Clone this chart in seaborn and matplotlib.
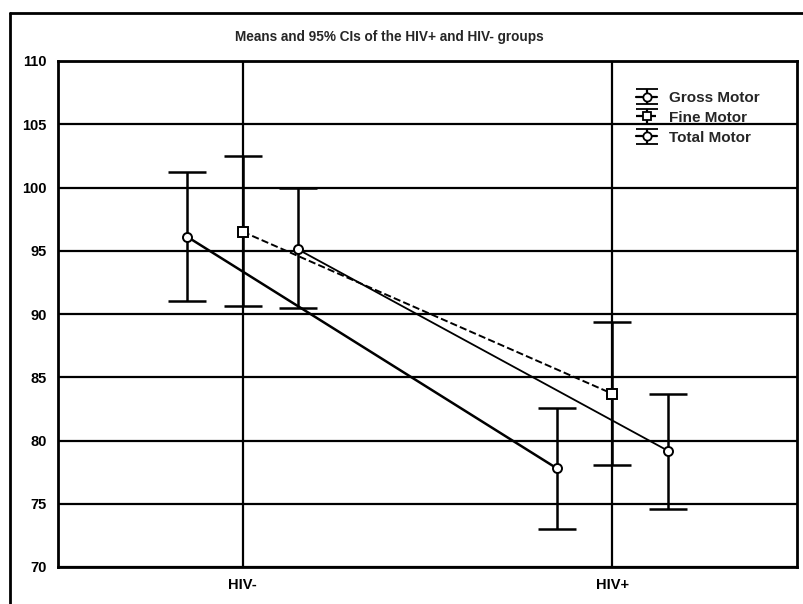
import matplotlib
matplotlib.use("Agg")
import matplotlib.pyplot as plt
import seaborn as sns
import pandas as pd
import numpy as np
from matplotlib.lines import Line2D

groups = ["HIV-", "HIV+"]
series = ["Gross Motor", "Fine Motor", "Total Motor"]
means = {"Gross Motor": [96.1, 77.8], "Fine Motor": [96.5, 83.7], "Total Motor": [95.1, 79.2]}
ci_low = {"Gross Motor": [91.0, 73.0], "Fine Motor": [90.6, 78.1], "Total Motor": [90.5, 74.6]}
ci_high = {"Gross Motor": [101.2, 82.6], "Fine Motor": [102.5, 89.4], "Total Motor": [100.0, 83.7]}
yticks = [70, 75, 80, 85, 90, 95, 100, 105, 110]

dodge = {"Gross Motor": -0.15, "Fine Motor": 0.0, "Total Motor": 0.15}
markers = {"Gross Motor": "o", "Fine Motor": "s", "Total Motor": "o"}
lws = {"Gross Motor": 1.8, "Fine Motor": 1.4, "Total Motor": 1.3}

rows = []
for s in series:
    for i, g in enumerate(groups):
        rows.append({"series": s, "group": g, "x": i + dodge[s], "mean": means[s][i],
                     "lo": ci_low[s][i], "hi": ci_high[s][i]})
df = pd.DataFrame(rows)

sns.set_theme(style="white")
plt.rcParams["font.family"] = ["Liberation Sans", "DejaVu Sans"]

fig = plt.figure(figsize=(8.04, 6.04), dpi=100)
ax = fig.add_axes([58 / 804, 1 - 567 / 604, (797 - 58) / 804, (567 - 61) / 604])

# grid
for y in yticks:
    ax.axhline(y, color="black", lw=1.6, zorder=1)
for i in range(len(groups)):
    ax.axvline(i, color="black", lw=1.6, zorder=1)

handles = []
for s in series:
    d = df[df.series == s]
    ls = "--" if s == "Fine Motor" else "-"
    sns.lineplot(data=d, x="x", y="mean", ax=ax, color="black", lw=lws[s],
                 dashes=False, linestyle=ls, legend=False, zorder=3, sort=False)
    ax.errorbar(d["x"], d["mean"], yerr=[d["mean"] - d["lo"], d["hi"] - d["mean"]],
                fmt="none", ecolor="black", elinewidth=1.8, capsize=14, capthick=1.8, zorder=4)
    ax.plot(d["x"], d["mean"], linestyle="none", marker=markers[s], ms=6.5,
            mfc="white", mec="black", mew=1.4, zorder=5)
    h = ax.errorbar([-5], [90], yerr=[[3], [3]], color="black", linestyle=ls, lw=1.6,
                    marker=markers[s], ms=6, mfc="white", mec="black", mew=1.3,
                    elinewidth=1.6, capsize=8, capthick=1.6)
    handles.append(h)

ax.set_xlim(-0.5, 1.5)
ax.set_ylim(70, 110)
ax.set_yticks(yticks)
ax.set_yticklabels([str(v) for v in yticks], fontweight="bold", fontsize=10.5)
ax.set_xticks(range(len(groups)))
ax.set_xticklabels(groups, fontweight="bold", fontsize=10.5)
ax.tick_params(axis="both", length=0, pad=8, colors="black")
ax.set_xlabel("")
ax.set_ylabel("")
for sp in ax.spines.values():
    sp.set_color("black")
    sp.set_linewidth(2)
    sp.set_visible(True)

leg = ax.legend(handles, series, loc="upper left", bbox_to_anchor=(0.774, 0.953),
                frameon=False, prop={"weight": "bold", "size": 11}, handlelength=1.4,
                labelspacing=0.38, handletextpad=0.75, borderaxespad=0.0)

fig.text(389 / 804, 1 - 37 / 604, "Means and 95% CIs of the HIV+ and HIV- groups",
         ha="center", va="center", fontsize=9.8, fontweight="bold")

# outer frame
fig.add_artist(Line2D([10 / 804, 10 / 804], [0, 1 - 13 / 604], color="black", lw=2,
                      transform=fig.transFigure))
fig.add_artist(Line2D([10 / 804, 1.0], [1 - 13 / 604, 1 - 13 / 604], color="black", lw=2,
                      transform=fig.transFigure))

fig.savefig("out.png", dpi=100, facecolor="white")
